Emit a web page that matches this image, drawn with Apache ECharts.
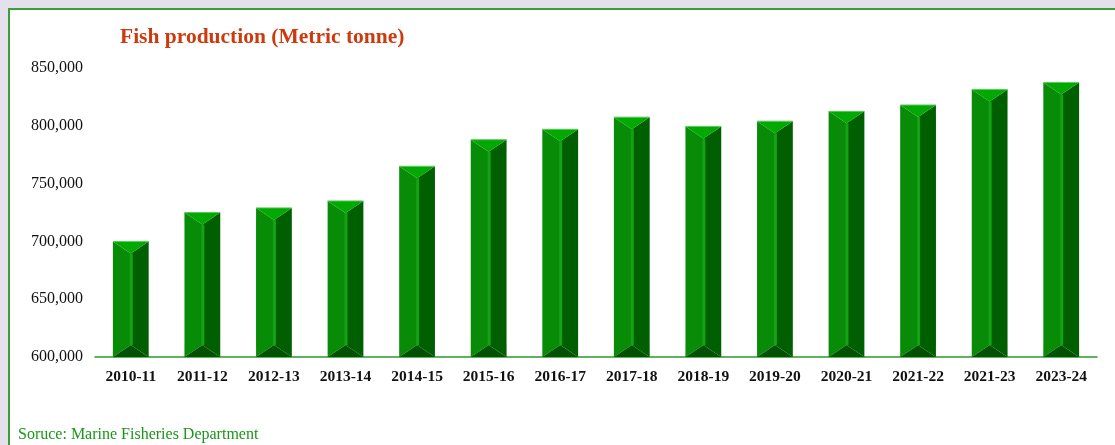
<!DOCTYPE html>
<html>
<head>
<meta charset="utf-8">
<script src="https://cdn.jsdelivr.net/npm/echarts@6/dist/echarts.min.js"></script>
<style>
  html, body { margin: 0; padding: 0; background: #e5e1ec; }
  #main { width: 1115px; height: 445px; }
</style>
</head>
<body>
<div id="main"></div>
<script>
const years = ['2010-11', '2011-12', '2012-13', '2013-14', '2014-15', '2015-16', '2016-17',
  '2017-18', '2018-19', '2019-20', '2020-21', '2021-22', '2021-23', '2023-24'];
const production = [700000, 725000, 729000, 735000, 765000, 788000, 797000,
  807500, 799500, 804000, 812500, 818000, 831500, 837500];

const yMin = 600000;

// bevelled bar: left/right faces, top and bottom triangles, thin highlight in the middle
function renderBevel(params, api) {
  const i = api.value(0);
  const top = api.coord([i, api.value(1)]);
  const base = api.coord([i, yMin]);
  const w = api.size([1, 0])[0] * 0.5;
  const xc = top[0];
  const x0 = xc - w / 2;
  const x1 = xc + w / 2;
  const yT = top[1];
  const yB = base[1];
  const d = Math.min(12, (yB - yT) / 2);
  const poly = (pts, fill) => ({ type: 'polygon', shape: { points: pts }, style: { fill: fill } });
  return {
    type: 'group',
    children: [
      poly([[x0, yT], [xc, yT + d], [xc, yB - d], [x0, yB]], '#088c08'),
      poly([[x1, yT], [xc, yT + d], [xc, yB - d], [x1, yB]], '#005f00'),
      { type: 'rect', shape: { x: xc - 1, y: yT + d, width: 3, height: yB - yT - 2 * d }, style: { fill: '#14a314' } },
      poly([[x0, yT], [x1, yT], [xc, yT + d]], '#03a903'),
      poly([[x0, yB], [x1, yB], [xc, yB - d]], '#035103'),
      { type: 'line', shape: { x1: x0, y1: yT, x2: x1, y2: yT }, style: { stroke: '#5cc85c', lineWidth: 1 } }
    ]
  };
}

const chart = echarts.init(document.getElementById('main'));
chart.setOption({
  animation: false,
  backgroundColor: 'transparent',
  graphic: [
    {
      type: 'rect', z: -10, silent: true,
      shape: { x: 9, y: 9, width: 1200, height: 500 },
      style: { fill: '#ffffff', stroke: '#3a9e3a', lineWidth: 2 }
    },
    {
      type: 'text', left: 18, top: 427,
      style: { text: 'Soruce: Marine Fisheries Department', fill: '#1a961a', font: '16px "Liberation Serif", serif' }
    }
  ],
  title: {
    text: 'Fish production (Metric tonne)',
    left: 115, top: 21,
    textStyle: { color: '#cc3a0e', fontSize: 21.5, fontWeight: 'bold', fontFamily: '"Liberation Serif", serif' }
  },
  grid: { left: 95, right: 18, top: 68, bottom: 88 },
  xAxis: {
    type: 'category',
    data: years,
    axisLine: { lineStyle: { color: '#2a9a2a', width: 1.5 } },
    axisTick: { show: false },
    axisLabel: { color: '#111', fontSize: 15.5, fontWeight: 'bold', fontFamily: '"Liberation Serif", serif', margin: 12 }
  },
  yAxis: {
    type: 'value',
    min: yMin, max: 850000, interval: 50000,
    axisLine: { show: false },
    axisTick: { show: false },
    splitLine: { show: false },
    axisLabel: {
      color: '#111', fontSize: 16, fontFamily: '"Liberation Serif", serif', margin: 12,
      formatter: v => v.toLocaleString('en-US')
    }
  },
  series: [{
    type: 'custom',
    renderItem: renderBevel,
    encode: { x: 0, y: 1 },
    data: production.map((v, i) => [i, v])
  }]
});
</script>
</body>
</html>
